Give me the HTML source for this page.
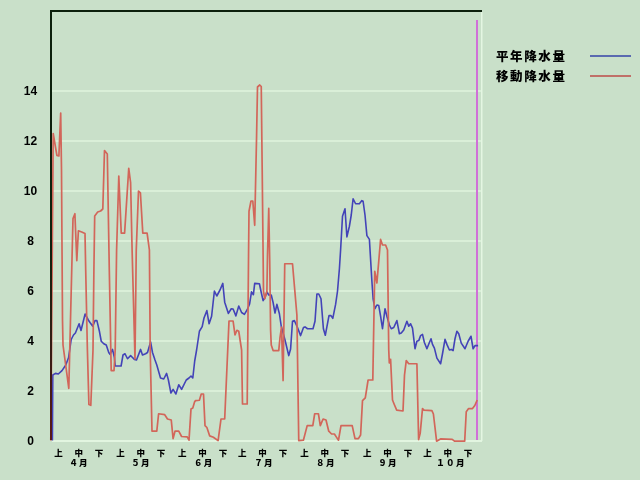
<!DOCTYPE html>
<html><head><meta charset="utf-8"><style>
html,body{margin:0;padding:0;background:#C9E0C9;width:640px;height:480px;overflow:hidden}
svg{display:block}
.yl{font-family:"Liberation Sans",sans-serif;font-weight:bold;font-size:12px;text-anchor:middle;fill:#000}
.xl{font-family:"Liberation Sans","Noto Sans CJK JP",sans-serif;font-weight:900;font-size:8.5px;text-anchor:middle;fill:#000}
.ml{font-family:"Liberation Sans","Noto Sans CJK JP",sans-serif;font-weight:900;font-size:8.5px;letter-spacing:1.3px;fill:#000}
.lg{font-family:"Liberation Sans","Noto Sans CJK JP",sans-serif;font-weight:900;font-size:12.5px;letter-spacing:1.6px;fill:#000}
</style></head><body>
<svg width="640" height="480" viewBox="0 0 640 480">
<rect width="640" height="480" fill="#C9E0C9"/>
<rect x="52" y="90" width="429" height="2" fill="#DAEFD8"/><rect x="52" y="140" width="429" height="2" fill="#DAEFD8"/><rect x="52" y="190" width="429" height="2" fill="#DAEFD8"/><rect x="52" y="240" width="429" height="2" fill="#DAEFD8"/><rect x="52" y="290" width="429" height="2" fill="#DAEFD8"/><rect x="52" y="340" width="429" height="2" fill="#DAEFD8"/><rect x="52" y="390" width="429" height="2" fill="#DAEFD8"/>
<rect x="52" y="440" width="430" height="2" fill="#E2F5E0"/>
<rect x="481" y="12" width="1.5" height="429" fill="#E4F6E2"/>
<rect x="476" y="20" width="2" height="420" fill="#D070D8"/>
<rect x="50" y="10" width="432" height="2" fill="#0C200C"/>
<polyline points="52.4,440.6 52.8,375 55.5,373.4 58.3,374 62,370.6 65.8,365 68.6,357.5 71.2,339.5 73.5,335 75.4,333 79.1,323.75 81,330.5 85.1,314 88.3,320 90,322.5 92.75,326.25 95,320.6 96.9,320.6 99.4,331.25 101.25,341.25 103.75,343.75 106.25,345 108.75,352.5 110,354.4 112.5,349.4 114.4,357.5 115.2,366 121.1,366 123,355 125,353.75 127.5,358.75 130.6,355.6 132.5,357.5 134.4,359.4 136.5,360 140.6,349.4 142.5,355 145.6,353.75 147.5,352.5 150.6,341.9 152.5,352.5 155,360 156.8,365 160.5,378 163.75,379 166.6,373.4 168.4,380 170.9,393 173.1,389.4 175.9,394 178.75,384.7 181.6,389.4 186.25,380 189,378 191,376 192.8,378 194.7,361 196.6,350 199.4,331.25 202.2,326.6 204,318 206.9,310.6 209.1,323.75 211.6,316.25 214.4,291 216.8,296 220,290 222.8,283.4 224.7,302.2 228.4,313.4 231.25,308.75 233.1,309 235.9,315.9 238.75,306 241.6,312.5 244.4,314.4 247.2,309.7 249.6,304 251.5,291.9 253.4,294.7 254.7,283.4 259.4,283.75 261.25,292.5 263.1,300.6 265,297.5 266.9,291.9 268.75,295 271.25,295 273.1,302.5 275,313 276.9,304.4 279.4,313.75 281.25,326.25 285,340 288.75,355.6 290.6,349 292.5,321.25 294.4,320.6 297.5,327.5 300.6,335.6 303.5,327.5 305,326.9 307.5,328.75 313,328.75 315,321.25 316.9,294 318.75,294 321,298.75 323.4,328.75 325.3,335.3 329,315.6 331,315.6 332.8,318.4 335.6,304.4 337.5,291.25 339.4,268.75 340.6,250 342.5,216.25 345,208.75 346.9,236.9 349.4,226.25 351.25,215 353.1,198.75 355.6,203.75 359.4,203.75 361.9,200.6 363.1,201.25 365,215 366.9,235.6 369.4,239.4 371.9,281.25 373.1,298.75 375,308.75 376.9,305 378.75,305.6 380.6,316.25 382.5,328.75 385,308.75 386.9,316.25 389.4,325 391.25,328.75 393.75,327.5 396.9,320.6 399.4,333.75 401.25,333.1 403.75,330 406.9,321.25 408.75,326.25 410.6,323.75 412.5,328.1 415,348.75 416.9,341.25 418.75,340.6 420.6,335.6 422.5,334.4 424.4,342.5 426.9,348.75 429.4,342.5 431,338.75 432.5,344.4 434.4,348.1 436.9,358.1 440.6,363.75 442.5,353.75 445,339.4 446.9,344.4 449.4,350 451.25,349.4 453.1,350.6 455,338.75 456.9,331.25 458.75,333.75 461.25,343.1 465,348.75 468.1,341.25 471,336.25 473.1,348.75 475,345.6 478.1,345.6" fill="none" stroke="#4343B8" stroke-width="1.6" stroke-linejoin="round"/>
<polyline points="50.8,440.6 53.2,133.5 56.9,155.4 58.9,156 60.7,113 61.5,170 62.5,320 63,345 68.8,388.3 73,218.6 74.9,213.7 76.8,260.6 78.4,230.8 81.7,232 85,233.5 85.7,270 87.4,350 88.9,404.4 90.8,405.3 93,350 93.9,270 94.7,215.9 97.7,212 100.6,211 102.8,209 104.5,150.5 107.3,154 109.3,270 111.2,370.6 114,370.6 115.2,350 116.6,250 118.8,176 121.25,233.1 124.6,233.1 128.75,168.4 130.6,182.5 132.1,250 135,359 136.25,250 138.5,191 140.4,192.8 142.8,233.1 147.1,233.1 149.4,250 150.2,350 152,431.2 156.8,431.2 158.6,413.75 164.7,414.7 167.5,419 171.25,420 173.1,438.6 175,431.2 178.75,431.2 181.6,436.5 187.2,436.85 189,440.2 191,409 192.8,408 194.7,401.6 195.6,400.6 199.4,400.25 201.25,394 203.5,394 205,425.6 206.9,427.5 209.7,435.9 213.4,437.2 218.1,440.6 221,419 224.7,419 229,321 233.1,321 235,335 236.9,330.3 238.75,331.25 241.6,350 242.5,404 247.2,404 248.5,260 249,211.25 251,201 252.8,201 254.7,225.3 256.6,135 257.5,87 259.75,85 261.25,86.5 262.2,170 263.5,291.25 264.75,298.75 266.9,291.25 267.5,255 268.75,208.4 269.7,260 270.6,330 271.25,345 273.1,350.6 278.75,350.6 280,337.5 281.5,327 283.1,380.6 284.75,263.75 292.5,263.75 296.9,315 298.75,440.6 303.4,440.2 307.2,425.6 312.8,425.6 314.7,413.75 318.4,413.75 320.3,425.6 323.1,419 326,420 328.75,431.2 331.6,434 334.4,434 336.25,436.85 338.5,440.2 341,425.6 352.2,425.6 355,438.6 358.4,438.6 360.6,435 362.5,400.6 365.3,397.8 368.1,380 372.8,380 374.75,271.25 376.9,283 380.6,239.4 382.5,245 385.6,245 387.5,250 388.75,350 389.3,363 390.6,359.4 392.5,400 394.4,404.7 396.7,410.2 403,411 404.5,375 406.25,360.6 408.75,363.75 416.9,363.75 418.6,439.6 420.2,433.4 422.5,408.6 424,410.2 431.9,410.6 433.4,414 436.6,441.2 440.5,438.9 452.2,439.35 454.5,441.2 464.7,441.2 466.25,411.7 468.6,408.6 472.5,408.6 474.8,405.5 477.2,400" fill="none" stroke="#D2665A" stroke-width="1.7" stroke-linejoin="round"/>
<defs><linearGradient id="ax" x1="0" y1="10" x2="0" y2="440" gradientUnits="userSpaceOnUse"><stop offset="0" stop-color="#0C200C"/><stop offset="0.55" stop-color="#0C200C"/><stop offset="1" stop-color="#5A1818"/></linearGradient></defs>
<rect x="50" y="10" width="2" height="430" fill="url(#ax)"/>
<text x="30.5" y="444.5" class="yl">0</text><text x="30.5" y="394.5" class="yl">2</text><text x="30.5" y="344.5" class="yl">4</text><text x="30.5" y="294.5" class="yl">6</text><text x="30.5" y="244.5" class="yl">8</text><text x="30.5" y="194.5" class="yl">10</text><text x="30.5" y="144.5" class="yl">12</text><text x="30.5" y="94.5" class="yl">14</text>
<text x="58.5" y="456" class="xl">上</text><text x="78.8" y="456" class="xl">中</text><text x="99.1" y="456" class="xl">下</text><text x="69.3" y="465.8" class="ml">４月</text><text x="120.5" y="456" class="xl">上</text><text x="140.8" y="456" class="xl">中</text><text x="161.1" y="456" class="xl">下</text><text x="131.2" y="465.8" class="ml">５月</text><text x="182.3" y="456" class="xl">上</text><text x="202.6" y="456" class="xl">中</text><text x="222.9" y="456" class="xl">下</text><text x="193.9" y="465.8" class="ml">６月</text><text x="242.3" y="456" class="xl">上</text><text x="262.6" y="456" class="xl">中</text><text x="282.9" y="456" class="xl">下</text><text x="254.3" y="465.8" class="ml">７月</text><text x="304.5" y="456" class="xl">上</text><text x="324.8" y="456" class="xl">中</text><text x="345.1" y="456" class="xl">下</text><text x="316.1" y="465.8" class="ml">８月</text><text x="367.3" y="456" class="xl">上</text><text x="387.6" y="456" class="xl">中</text><text x="407.9" y="456" class="xl">下</text><text x="378.3" y="465.8" class="ml">９月</text><text x="427.5" y="456" class="xl">上</text><text x="447.8" y="456" class="xl">中</text><text x="468.1" y="456" class="xl">下</text><text x="436.3" y="465.8" class="ml">１０月</text>
<text x="496" y="60.5" class="lg">平年降水量</text>
<text x="496" y="80.5" class="lg">移動降水量</text>
<rect x="590" y="55" width="41" height="2" fill="#5A6AB0"/>
<rect x="590" y="75" width="41" height="2" fill="#C07068"/>
</svg>
</body></html>
